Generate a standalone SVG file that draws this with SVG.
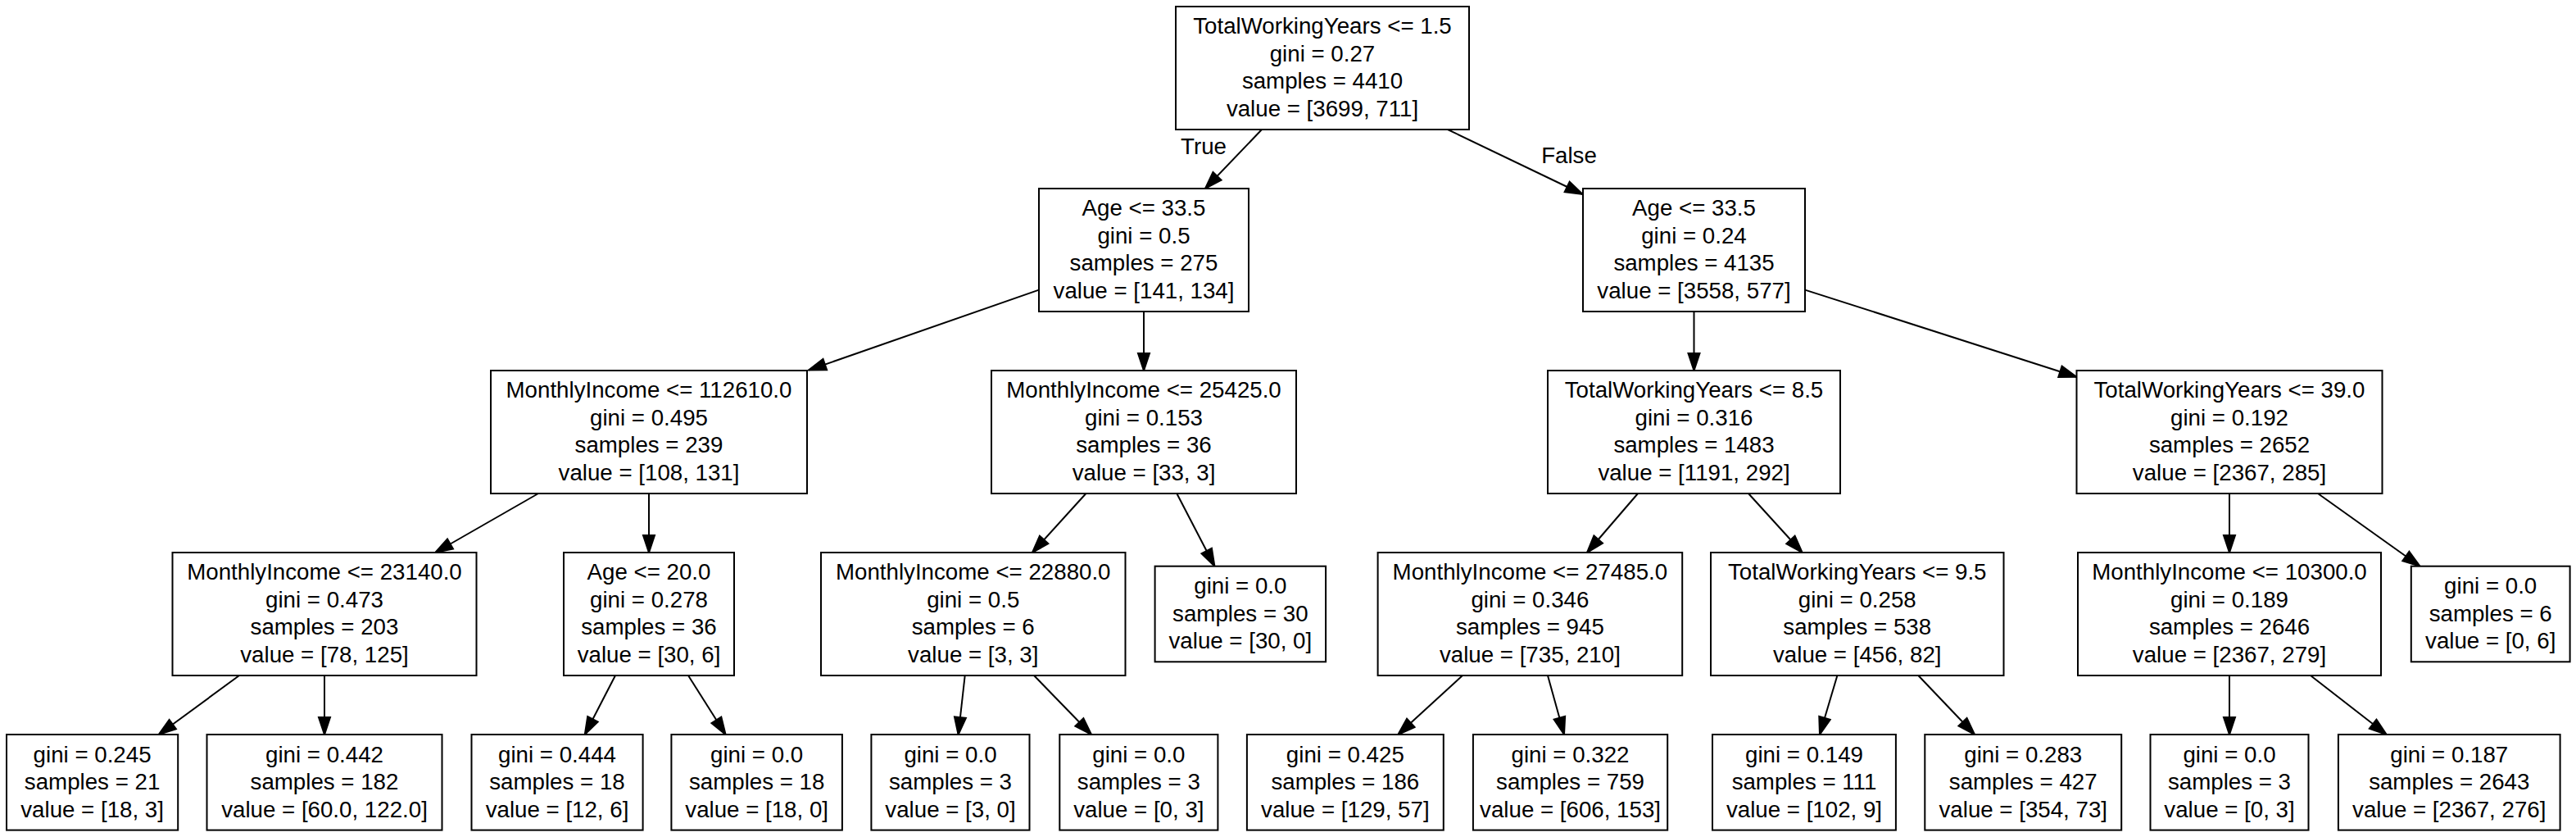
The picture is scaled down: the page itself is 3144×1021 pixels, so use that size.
<svg xmlns="http://www.w3.org/2000/svg" width="3144" height="1021" viewBox="0 0 3144 1021">
<style>
.n rect{fill:#fff;stroke:#000;stroke-width:2}
text{font-family:"Liberation Sans",Arial,Helvetica,sans-serif;font-size:27.7px;fill:#000;text-anchor:middle}
.e line{stroke:#000;stroke-width:2;fill:none}
</style>
<defs>
<marker id="ah" markerUnits="userSpaceOnUse" markerWidth="26" markerHeight="18" refX="21" refY="7" orient="auto" overflow="visible">
<path d="M0,0 L21,7 L0,14 Z" fill="#000" stroke="#000" stroke-width="2" stroke-linejoin="miter"/>
</marker>
</defs>
<rect x="0" y="0" width="3144" height="1021" fill="#fff"/>
<g id="edges" class="e">
<line x1="1540" y1="158" x2="1471" y2="230" marker-end="url(#ah)"/>
<line x1="1767" y1="158" x2="1931.6" y2="237" marker-end="url(#ah)"/>
<line x1="1268" y1="353.6" x2="987" y2="451.5" marker-end="url(#ah)"/>
<line x1="1396" y1="380" x2="1396" y2="452" marker-end="url(#ah)"/>
<line x1="2067.5" y1="380" x2="2067.5" y2="452" marker-end="url(#ah)"/>
<line x1="2203" y1="353.6" x2="2534.4" y2="459.7" marker-end="url(#ah)"/>
<line x1="657" y1="602" x2="531.3" y2="674" marker-end="url(#ah)"/>
<line x1="792" y1="602" x2="792" y2="674" marker-end="url(#ah)"/>
<line x1="1325.4" y1="602" x2="1260" y2="674" marker-end="url(#ah)"/>
<line x1="1436.3" y1="602" x2="1482.4" y2="690.7" marker-end="url(#ah)"/>
<line x1="1999" y1="602" x2="1937" y2="674" marker-end="url(#ah)"/>
<line x1="2134" y1="602" x2="2199.6" y2="674" marker-end="url(#ah)"/>
<line x1="2721" y1="602" x2="2721" y2="674" marker-end="url(#ah)"/>
<line x1="2829" y1="602" x2="2953.5" y2="690.7" marker-end="url(#ah)"/>
<line x1="292" y1="824" x2="193.8" y2="896" marker-end="url(#ah)"/>
<line x1="396" y1="824" x2="396" y2="896" marker-end="url(#ah)"/>
<line x1="751" y1="824" x2="713.8" y2="896" marker-end="url(#ah)"/>
<line x1="840" y1="824" x2="885.6" y2="896" marker-end="url(#ah)"/>
<line x1="1177.7" y1="824" x2="1169.6" y2="896" marker-end="url(#ah)"/>
<line x1="1262" y1="824" x2="1332" y2="896" marker-end="url(#ah)"/>
<line x1="1785" y1="824" x2="1706.3" y2="896" marker-end="url(#ah)"/>
<line x1="1889" y1="824" x2="1909" y2="896" marker-end="url(#ah)"/>
<line x1="2242.4" y1="824" x2="2221" y2="896" marker-end="url(#ah)"/>
<line x1="2341.3" y1="824" x2="2410" y2="896" marker-end="url(#ah)"/>
<line x1="2721" y1="824" x2="2721" y2="896" marker-end="url(#ah)"/>
<line x1="2820" y1="824" x2="2912.7" y2="896" marker-end="url(#ah)"/>
<text x="1469" y="188">True</text>
<text x="1915" y="198.5">False</text>
</g>
<g id="n0" class="n"><rect x="1435" y="8" width="358" height="150"/>
<text x="1614" y="41">TotalWorkingYears &lt;= 1.5</text><text x="1614" y="74.6">gini = 0.27</text><text x="1614" y="108.2">samples = 4410</text><text x="1614" y="141.8">value = [3699, 711]</text></g>
<g id="n1" class="n"><rect x="1268" y="230" width="256" height="150"/>
<text x="1396" y="263">Age &lt;= 33.5</text><text x="1396" y="296.6">gini = 0.5</text><text x="1396" y="330.2">samples = 275</text><text x="1396" y="363.8">value = [141, 134]</text></g>
<g id="n2" class="n"><rect x="1932" y="230" width="271" height="150"/>
<text x="2067.5" y="263">Age &lt;= 33.5</text><text x="2067.5" y="296.6">gini = 0.24</text><text x="2067.5" y="330.2">samples = 4135</text><text x="2067.5" y="363.8">value = [3558, 577]</text></g>
<g id="n3" class="n"><rect x="599" y="452" width="386" height="150"/>
<text x="792" y="485">MonthlyIncome &lt;= 112610.0</text><text x="792" y="518.6">gini = 0.495</text><text x="792" y="552.2">samples = 239</text><text x="792" y="585.8">value = [108, 131]</text></g>
<g id="n4" class="n"><rect x="1210" y="452" width="372" height="150"/>
<text x="1396" y="485">MonthlyIncome &lt;= 25425.0</text><text x="1396" y="518.6">gini = 0.153</text><text x="1396" y="552.2">samples = 36</text><text x="1396" y="585.8">value = [33, 3]</text></g>
<g id="n5" class="n"><rect x="1889" y="452" width="357" height="150"/>
<text x="2067.5" y="485">TotalWorkingYears &lt;= 8.5</text><text x="2067.5" y="518.6">gini = 0.316</text><text x="2067.5" y="552.2">samples = 1483</text><text x="2067.5" y="585.8">value = [1191, 292]</text></g>
<g id="n6" class="n"><rect x="2534.5" y="452" width="373" height="150"/>
<text x="2721" y="485">TotalWorkingYears &lt;= 39.0</text><text x="2721" y="518.6">gini = 0.192</text><text x="2721" y="552.2">samples = 2652</text><text x="2721" y="585.8">value = [2367, 285]</text></g>
<g id="n7" class="n"><rect x="210.5" y="674" width="371" height="150"/>
<text x="396" y="707">MonthlyIncome &lt;= 23140.0</text><text x="396" y="740.6">gini = 0.473</text><text x="396" y="774.2">samples = 203</text><text x="396" y="807.8">value = [78, 125]</text></g>
<g id="n8" class="n"><rect x="688" y="674" width="208" height="150"/>
<text x="792" y="707">Age &lt;= 20.0</text><text x="792" y="740.6">gini = 0.278</text><text x="792" y="774.2">samples = 36</text><text x="792" y="807.8">value = [30, 6]</text></g>
<g id="n9" class="n"><rect x="1002" y="674" width="371.5" height="150"/>
<text x="1187.75" y="707">MonthlyIncome &lt;= 22880.0</text><text x="1187.75" y="740.6">gini = 0.5</text><text x="1187.75" y="774.2">samples = 6</text><text x="1187.75" y="807.8">value = [3, 3]</text></g>
<g id="n10" class="n"><rect x="1409.6" y="690.7" width="208.5" height="116.6"/>
<text x="1513.85" y="724.2">gini = 0.0</text><text x="1513.85" y="757.8">samples = 30</text><text x="1513.85" y="791.4">value = [30, 0]</text></g>
<g id="n11" class="n"><rect x="1681.6" y="674" width="371.6" height="150"/>
<text x="1867.4" y="707">MonthlyIncome &lt;= 27485.0</text><text x="1867.4" y="740.6">gini = 0.346</text><text x="1867.4" y="774.2">samples = 945</text><text x="1867.4" y="807.8">value = [735, 210]</text></g>
<g id="n12" class="n"><rect x="2088" y="674" width="357.5" height="150"/>
<text x="2266.75" y="707">TotalWorkingYears &lt;= 9.5</text><text x="2266.75" y="740.6">gini = 0.258</text><text x="2266.75" y="774.2">samples = 538</text><text x="2266.75" y="807.8">value = [456, 82]</text></g>
<g id="n13" class="n"><rect x="2536" y="674" width="370" height="150"/>
<text x="2721" y="707">MonthlyIncome &lt;= 10300.0</text><text x="2721" y="740.6">gini = 0.189</text><text x="2721" y="774.2">samples = 2646</text><text x="2721" y="807.8">value = [2367, 279]</text></g>
<g id="n14" class="n"><rect x="2942.8" y="690.7" width="193.8" height="116.6"/>
<text x="3039.7" y="724.2">gini = 0.0</text><text x="3039.7" y="757.8">samples = 6</text><text x="3039.7" y="791.4">value = [0, 6]</text></g>
<g id="l1" class="n"><rect x="8" y="896" width="209.2" height="116.6"/>
<text x="112.6" y="929.5">gini = 0.245</text><text x="112.6" y="963.1">samples = 21</text><text x="112.6" y="996.7">value = [18, 3]</text></g>
<g id="l2" class="n"><rect x="252.5" y="896" width="287" height="116.6"/>
<text x="396" y="929.5">gini = 0.442</text><text x="396" y="963.1">samples = 182</text><text x="396" y="996.7">value = [60.0, 122.0]</text></g>
<g id="l3" class="n"><rect x="575.5" y="896" width="209.1" height="116.6"/>
<text x="680" y="929.5">gini = 0.444</text><text x="680" y="963.1">samples = 18</text><text x="680" y="996.7">value = [12, 6]</text></g>
<g id="l4" class="n"><rect x="819.4" y="896" width="208.5" height="116.6"/>
<text x="923.65" y="929.5">gini = 0.0</text><text x="923.65" y="963.1">samples = 18</text><text x="923.65" y="996.7">value = [18, 0]</text></g>
<g id="l5" class="n"><rect x="1063.4" y="896" width="193.1" height="116.6"/>
<text x="1160" y="929.5">gini = 0.0</text><text x="1160" y="963.1">samples = 3</text><text x="1160" y="996.7">value = [3, 0]</text></g>
<g id="l6" class="n"><rect x="1293.3" y="896" width="193.1" height="116.6"/>
<text x="1389.85" y="929.5">gini = 0.0</text><text x="1389.85" y="963.1">samples = 3</text><text x="1389.85" y="996.7">value = [0, 3]</text></g>
<g id="l7" class="n"><rect x="1521.9" y="896" width="239.9" height="116.6"/>
<text x="1641.85" y="929.5">gini = 0.425</text><text x="1641.85" y="963.1">samples = 186</text><text x="1641.85" y="996.7">value = [129, 57]</text></g>
<g id="l8" class="n"><rect x="1797.9" y="896" width="237.3" height="116.6"/>
<text x="1916.55" y="929.5">gini = 0.322</text><text x="1916.55" y="963.1">samples = 759</text><text x="1916.55" y="996.7">value = [606, 153]</text></g>
<g id="l9" class="n"><rect x="2090" y="896" width="223.9" height="116.6"/>
<text x="2202" y="929.5">gini = 0.149</text><text x="2202" y="963.1">samples = 111</text><text x="2202" y="996.7">value = [102, 9]</text></g>
<g id="l10" class="n"><rect x="2349.3" y="896" width="239.9" height="116.6"/>
<text x="2469.25" y="929.5">gini = 0.283</text><text x="2469.25" y="963.1">samples = 427</text><text x="2469.25" y="996.7">value = [354, 73]</text></g>
<g id="l11" class="n"><rect x="2624.5" y="896" width="193" height="116.6"/>
<text x="2721" y="929.5">gini = 0.0</text><text x="2721" y="963.1">samples = 3</text><text x="2721" y="996.7">value = [0, 3]</text></g>
<g id="l12" class="n"><rect x="2853.9" y="896" width="270.7" height="116.6"/>
<text x="2989.25" y="929.5">gini = 0.187</text><text x="2989.25" y="963.1">samples = 2643</text><text x="2989.25" y="996.7">value = [2367, 276]</text></g>
</svg>
